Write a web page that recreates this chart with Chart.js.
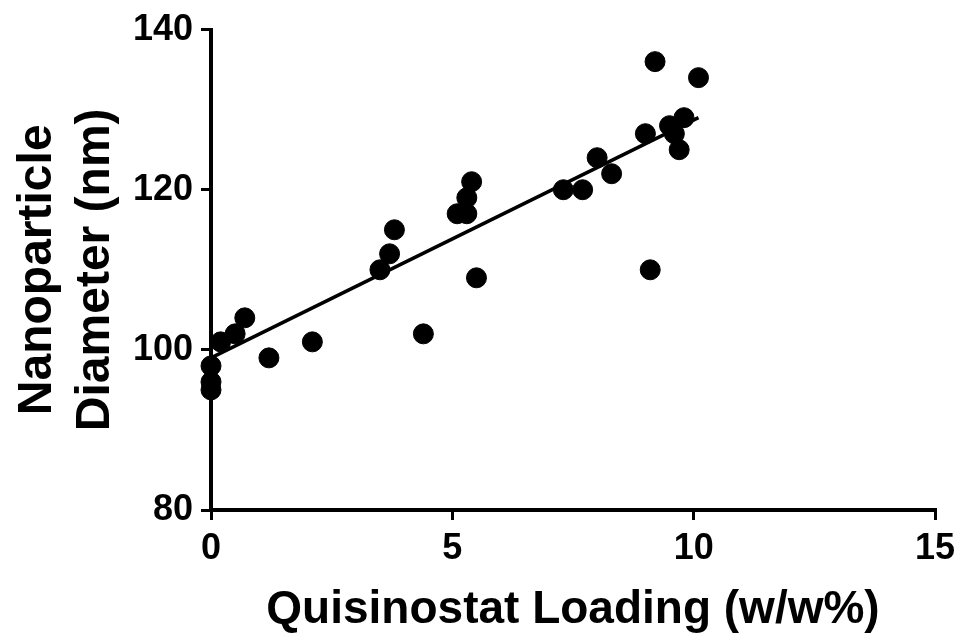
<!DOCTYPE html>
<html>
<head>
<meta charset="utf-8">
<script src="https://cdn.jsdelivr.net/npm/chart.js@4.4.0/dist/chart.umd.min.js"></script>
<style>
  html, body { margin: 0; padding: 0; background: #fff; }
  #wrap { width: 969px; height: 641px; }
</style>
</head>
<body>
<div id="wrap"><canvas id="myChart" width="969" height="641"></canvas></div>
<script>
// data
const loading = [0, 0, 0, 0.2, 0.5, 0.7, 1.2, 2.1, 3.5, 3.7, 3.8, 4.4, 5.1, 5.3, 5.3, 5.4, 5.5,
                 7.3, 7.7, 8.0, 8.3, 9.0, 9.1, 9.2, 9.5, 9.6, 9.7, 9.8, 10.1];
const diameter = [95, 96, 98, 101, 102, 104, 99, 101, 110, 112, 115, 102, 117, 117, 119, 121, 109,
                  120, 120, 124, 122, 127, 110, 136, 128, 127, 125, 129, 134];

// linear fit line end points
const fitX = [0, 10.1];
const fitY = [99, 129];

const xTicks = [0, 5, 10, 15];
const yTicks = [80, 100, 120, 140];

const fontFamily = "'Liberation Sans', Arial, sans-serif";

const points = loading.map((x, i) => ({ x, y: diameter[i] }));
const fitLine = fitX.map((x, i) => ({ x, y: fitY[i] }));

const ctx = document.getElementById('myChart').getContext('2d');
new Chart(ctx, {
    type: 'scatter',
    data: {
        datasets: [
            {
                type: 'line',
                data: fitLine,
                borderColor: '#000',
                borderWidth: 3.5,
                pointRadius: 0,
                fill: false,
                clip: false
            },
            {
                data: points,
                backgroundColor: '#000',
                borderColor: '#000',
                pointRadius: 10,
                clip: false
            }
        ]
    },
    options: {
        responsive: false,
        animation: false,
        layout: { padding: { top: 25, right: 34, left: 0, bottom: 0 } },
        plugins: {
            legend: { display: false },
            tooltip: { enabled: false }
        },
        scales: {
            x: {
                type: 'linear',
                min: xTicks[0],
                max: xTicks[xTicks.length - 1],
                afterBuildTicks: s => { s.ticks = xTicks.map(v => ({ value: v })); },
                afterFit: s => { s.height = 131; },
                border: { color: '#000', width: 4 },
                grid: { drawOnChartArea: false, color: '#000', lineWidth: 3, tickLength: 10 },
                ticks: {
                    color: '#000',
                    padding: 7,
                    font: { family: fontFamily, size: 36, weight: 'bold' }
                },
                title: {
                    display: true,
                    text: 'Quisinostat Loading (w/w%)',
                    color: '#000',
                    padding: { top: 0, bottom: 3 },
                    font: { family: fontFamily, size: 46, weight: 'bold' }
                }
            },
            y: {
                type: 'linear',
                min: yTicks[0],
                max: yTicks[yTicks.length - 1],
                afterBuildTicks: s => { s.ticks = yTicks.map(v => ({ value: v })); },
                afterFit: s => { s.width = 211; },
                border: { color: '#000', width: 4 },
                grid: { drawOnChartArea: false, color: '#000', lineWidth: 3, tickLength: 10 },
                ticks: {
                    color: '#000',
                    padding: 8,
                    font: { family: fontFamily, size: 36, weight: 'bold' }
                },
                title: {
                    display: true,
                    text: ['Nanoparticle', 'Diameter (nm)'],
                    color: '#000',
                    padding: { top: 9, bottom: 0 },
                    font: { family: fontFamily, size: 48, weight: 'bold', lineHeight: 1.2 }
                }
            }
        }
    }
});
</script>
</body>
</html>
